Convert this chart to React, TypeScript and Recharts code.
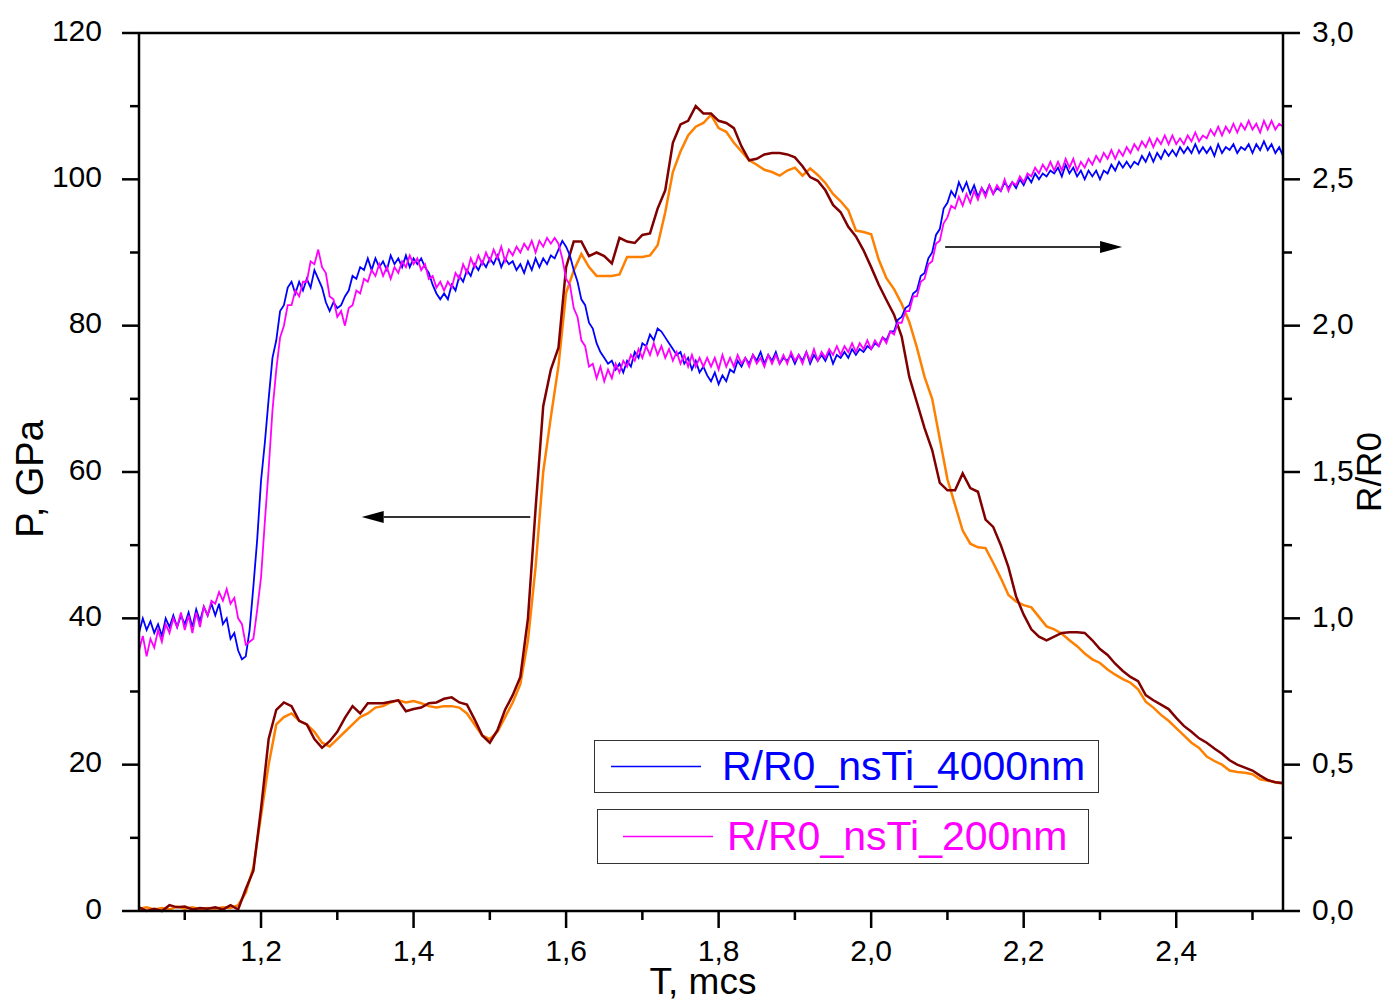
import { LineChart, Line, XAxis, YAxis, ReferenceLine } from 'recharts';

// pressure traces, GPa, sampled every 0.01 mcs from 1.04 to 2.54
const pressureDarkRed = [
  0.5, 0, 0.3, 0, 0.8, 0.5, 0.6, 0.2, 0.4, 0.3,
  0.5, 0.2, 0.8, 0.2, 3, 5.5, 14, 23.5, 27.5, 28.5,
  28, 26, 25.5, 23.5, 22.3, 23.2, 24.5, 26.4, 28, 27,
  28.4, 28.4, 28.4, 28.6, 28.8, 27.3, 27.6, 27.8, 28.4, 28.5,
  29, 29.2, 28.5, 28.2, 26.2, 24, 23, 24.7, 27.5, 29.5,
  32, 40, 55, 69, 74, 77, 88, 91.5, 91.5, 89.5,
  90, 89.5, 88.5, 92, 91.5, 91.3, 92.4, 92.6, 96, 98.5,
  105, 107.5, 108, 110, 109, 109, 108, 107.7, 107, 104.5,
  102.6, 102.8, 103.4, 103.6, 103.6, 103.4, 103, 101.8, 100.3, 99.8,
  98.5, 96.5, 95.5, 93.5, 92.2, 90.3, 88, 85.6, 83.5, 81.5,
  78.5, 73, 69.5, 66, 63, 58.5, 57.5, 57.5, 59.8, 57.8,
  57.3, 53.5, 52.5, 50, 47, 43, 40.5, 38.5, 37.5, 37,
  37.5, 38, 38.1, 38.1, 38, 37, 35.8, 35, 33.8, 32.8,
  32, 31.4, 29.5, 28.8, 28.2, 27.6, 26.4, 25.3, 24.5, 23.6,
  23, 22.2, 21.5, 20.6, 20, 19.6, 19.2, 18.5, 17.9, 17.6,
  17.5,
];

const pressureOrange = [
  0.3, 0.5, 0.2, 0.4, 0.2, 0.6, 0.3, 0.5, 0.2, 0.4,
  0.3, 0.5, 0.4, 0.8, 2.5, 6, 13, 20, 25.5, 26.5,
  27, 26, 25.5, 24.5, 23, 22.5, 23.5, 24.5, 25.5, 26.5,
  27, 27.8, 28, 28.5, 28.8, 28.5, 28.7, 28.4, 28, 27.8,
  28, 28, 27.8, 27, 25.5, 24, 23.5, 24.5, 26.5, 28.5,
  31, 37, 47, 60, 67.5, 74.5, 84.5, 87.5, 89.8, 88,
  86.8, 86.8, 86.8, 87, 89.4, 89.4, 89.4, 89.6, 91, 95.5,
  101, 103.8, 106, 107.2, 107.7, 108.8, 107, 106.5, 105, 103.8,
  102.6, 102, 101.3, 101, 100.5, 101.2, 101.6, 100.5, 101.5, 100.6,
  99.5, 98, 97, 95.8, 93, 92.8, 92.5, 89, 86.5, 85,
  83, 80.5, 77, 73, 70, 64.5, 59, 55.5, 52, 50.2,
  49.7, 49.6, 47.6, 45.5, 43.2, 42.3, 41.8, 41.5, 40.2, 38.9,
  38.5, 37.9, 37, 36.2, 35.2, 34.4, 33.9, 33, 32.3, 31.7,
  31.2, 30.3, 28.6, 27.8, 26.8, 26, 25, 24, 23, 22.3,
  21.1, 20.5, 20, 19.2, 19, 18.9, 18.7, 18, 17.8, 17.6,
  17.4,
];

// R/R0 traces, sampled every 0.005 mcs from 1.04 to 2.54
const rr4000 = [
  0.95, 1.00, 0.96, 0.99, 0.95, 0.98, 0.94, 1.00, 0.97, 1.01,
  0.97, 1.01, 0.98, 1.02, 0.97, 1.03, 0.99, 1.04, 1.01, 1.05,
  1.01, 1.05, 0.98, 1.00, 0.93, 0.95, 0.89, 0.86, 0.87, 0.96,
  1.11, 1.27, 1.47, 1.60, 1.75, 1.89, 1.95, 2.05, 2.07, 2.13,
  2.15, 2.11, 2.15, 2.12, 2.16, 2.13, 2.19, 2.16, 2.13, 2.08,
  2.05, 2.08, 2.06, 2.07, 2.10, 2.12, 2.17, 2.16, 2.20, 2.19,
  2.23, 2.19, 2.23, 2.20, 2.22, 2.19, 2.24, 2.21, 2.23, 2.20,
  2.24, 2.20, 2.23, 2.21, 2.23, 2.20, 2.18, 2.14, 2.11, 2.09,
  2.11, 2.09, 2.14, 2.12, 2.17, 2.15, 2.19, 2.17, 2.21, 2.19,
  2.22, 2.20, 2.23, 2.21, 2.24, 2.20, 2.23, 2.21, 2.22, 2.19,
  2.21, 2.18, 2.22, 2.19, 2.23, 2.20, 2.23, 2.21, 2.24, 2.23,
  2.26, 2.29, 2.27, 2.24, 2.19, 2.15, 2.09, 2.07, 2.01, 1.99,
  1.94, 1.91, 1.89, 1.87, 1.88, 1.85, 1.87, 1.84, 1.88, 1.86,
  1.91, 1.89, 1.94, 1.93, 1.97, 1.95, 1.99, 1.98, 1.96, 1.94,
  1.92, 1.90, 1.91, 1.87, 1.89, 1.85, 1.88, 1.84, 1.86, 1.83,
  1.81, 1.84, 1.80, 1.83, 1.81, 1.85, 1.84, 1.88, 1.86, 1.89,
  1.87, 1.90, 1.88, 1.91, 1.87, 1.90, 1.88, 1.91, 1.87, 1.89,
  1.88, 1.90, 1.87, 1.90, 1.88, 1.91, 1.87, 1.90, 1.88, 1.90,
  1.88, 1.91, 1.87, 1.90, 1.89, 1.91, 1.89, 1.92, 1.90, 1.92,
  1.91, 1.93, 1.92, 1.94, 1.93, 1.96, 1.95, 1.98, 1.98, 2.02,
  2.03, 2.06, 2.07, 2.11, 2.12, 2.17, 2.18, 2.23, 2.25, 2.31,
  2.33, 2.40, 2.42, 2.46, 2.44, 2.49, 2.46, 2.49, 2.45, 2.48,
  2.44, 2.47, 2.45, 2.48, 2.45, 2.47, 2.46, 2.49, 2.47, 2.49,
  2.47, 2.50, 2.48, 2.51, 2.49, 2.52, 2.50, 2.52, 2.51, 2.53,
  2.52, 2.54, 2.51, 2.55, 2.52, 2.54, 2.51, 2.53, 2.50, 2.53,
  2.51, 2.53, 2.50, 2.53, 2.52, 2.55, 2.53, 2.56, 2.54, 2.56,
  2.54, 2.56, 2.55, 2.58, 2.56, 2.59, 2.56, 2.59, 2.57, 2.60,
  2.58, 2.60, 2.58, 2.61, 2.59, 2.61, 2.59, 2.62, 2.59, 2.61,
  2.59, 2.61, 2.58, 2.62, 2.59, 2.61, 2.60, 2.62, 2.59, 2.61,
  2.60, 2.62, 2.59, 2.62, 2.60, 2.63, 2.60, 2.62, 2.59, 2.61,
  2.58,
];

const rr200 = [
  0.89, 0.94, 0.87, 0.93, 0.90, 0.96, 0.92, 0.98, 0.95, 1.00,
  0.97, 1.02, 0.96, 1.01, 0.95, 1.02, 0.97, 1.04, 1.01, 1.06,
  1.05, 1.09, 1.06, 1.10, 1.05, 1.07, 1.00, 0.98, 0.91, 0.92,
  0.93, 1.03, 1.14, 1.33, 1.51, 1.71, 1.85, 1.96, 2.00, 2.07,
  2.07, 2.12, 2.10, 2.15, 2.15, 2.22, 2.21, 2.26, 2.20, 2.18,
  2.10, 2.09, 2.03, 2.05, 2.00, 2.06, 2.07, 2.12, 2.11, 2.16,
  2.15, 2.19, 2.17, 2.21, 2.17, 2.20, 2.16, 2.20, 2.18, 2.22,
  2.20, 2.24, 2.21, 2.23, 2.19, 2.21, 2.16, 2.17, 2.13, 2.15,
  2.12, 2.15, 2.13, 2.18, 2.16, 2.21, 2.18, 2.23, 2.20, 2.24,
  2.21, 2.25, 2.22, 2.26, 2.23, 2.27, 2.22, 2.26, 2.24, 2.27,
  2.25, 2.28, 2.26, 2.29, 2.25, 2.29, 2.27, 2.30, 2.28, 2.30,
  2.28, 2.23, 2.16, 2.14, 2.06, 2.03, 1.95, 1.93, 1.86, 1.87,
  1.82, 1.86, 1.81, 1.85, 1.82, 1.87, 1.84, 1.88, 1.86, 1.90,
  1.88, 1.92, 1.89, 1.93, 1.90, 1.94, 1.90, 1.93, 1.89, 1.92,
  1.88, 1.91, 1.87, 1.90, 1.86, 1.90, 1.86, 1.89, 1.86, 1.89,
  1.86, 1.89, 1.85, 1.90, 1.86, 1.89, 1.86, 1.90, 1.87, 1.89,
  1.86, 1.90, 1.87, 1.89, 1.86, 1.90, 1.87, 1.90, 1.87, 1.90,
  1.87, 1.91, 1.88, 1.90, 1.87, 1.91, 1.88, 1.92, 1.88, 1.91,
  1.89, 1.92, 1.90, 1.93, 1.90, 1.93, 1.91, 1.94, 1.91, 1.94,
  1.92, 1.95, 1.92, 1.95, 1.93, 1.96, 1.94, 1.98, 1.97, 2.01,
  2.01, 2.05, 2.05, 2.10, 2.10, 2.15, 2.16, 2.21, 2.22, 2.28,
  2.29, 2.35, 2.37, 2.41, 2.40, 2.44, 2.41, 2.45, 2.42, 2.46,
  2.43, 2.47, 2.44, 2.48, 2.45, 2.48, 2.46, 2.50, 2.46, 2.49,
  2.48, 2.51, 2.49, 2.52, 2.51, 2.54, 2.52, 2.55, 2.53, 2.56,
  2.53, 2.56, 2.53, 2.57, 2.54, 2.57, 2.53, 2.56, 2.54, 2.57,
  2.55, 2.58, 2.56, 2.59, 2.57, 2.60, 2.57, 2.60, 2.58, 2.61,
  2.59, 2.62, 2.60, 2.63, 2.61, 2.64, 2.61, 2.64, 2.62, 2.65,
  2.62, 2.65, 2.62, 2.64, 2.62, 2.65, 2.63, 2.66, 2.63, 2.65,
  2.64, 2.67, 2.65, 2.68, 2.65, 2.68, 2.66, 2.69, 2.66, 2.69,
  2.67, 2.70, 2.67, 2.69, 2.66, 2.70, 2.67, 2.70, 2.67, 2.69,
  2.68,
];

const xTicks = [1.1, 1.2, 1.3, 1.4, 1.5, 1.6, 1.7, 1.8, 1.9, 2.0, 2.1, 2.2, 2.3, 2.4, 2.5];
const leftTicks = [0, 10, 20, 30, 40, 50, 60, 70, 80, 90, 100, 110, 120];
const rightTicks = [0, 0.25, 0.5, 0.75, 1, 1.25, 1.5, 1.75, 2, 2.25, 2.5, 2.75, 3];

const FONT = '"Liberation Sans", Arial, sans-serif';

const withTimes = (values: number[], start: number, step: number) =>
  values.map((v, i) => ({ t: +(start + i * step).toFixed(3), v }));

const darkRedData = withTimes(pressureDarkRed, 1.04, 0.01);
const orangeData = withTimes(pressureOrange, 1.04, 0.01);
const blueData = withTimes(rr4000, 1.04, 0.005);
const magentaData = withTimes(rr200, 1.04, 0.005);

const comma = (v: number) => v.toFixed(1).replace('.', ',');

function XTick({ x, y, payload }: any) {
  const major = Math.round(payload.value * 10) % 2 === 0;
  return (
    <g>
      <line x1={x} x2={x} y1={y} y2={y + (major ? 17 : 9)} stroke="#000" strokeWidth={2.5} />
      {major && (
        <text x={x} y={y + 39} textAnchor="middle" dominantBaseline="central" fontSize={30} fontFamily={FONT} fill="#000">
          {comma(payload.value)}
        </text>
      )}
    </g>
  );
}

function LeftTick({ x, y, payload }: any) {
  const major = payload.value % 20 === 0;
  return (
    <g>
      <line x1={x} x2={x - (major ? 17 : 9)} y1={y} y2={y} stroke="#000" strokeWidth={2.5} />
      {major && (
        <text x={x - 37} y={y - 3} textAnchor="end" dominantBaseline="central" fontSize={30} fontFamily={FONT} fill="#000">
          {payload.value}
        </text>
      )}
    </g>
  );
}

function RightTick({ x, y, payload }: any) {
  const major = Math.round(payload.value * 100) % 50 === 0;
  return (
    <g>
      <line x1={x} x2={x + (major ? 17 : 9)} y1={y} y2={y} stroke="#000" strokeWidth={2.5} />
      {major && (
        <text x={x + 29} y={y - 2} textAnchor="start" dominantBaseline="central" fontSize={30} fontFamily={FONT} fill="#000">
          {comma(payload.value)}
        </text>
      )}
    </g>
  );
}

function arrow(props: any) {
  const { x1, y1, x2, y2 } = props;
  const dir = x2 > x1 ? 1 : -1;
  const head = 22;
  return (
    <g>
      <line x1={x1} y1={y1} x2={x2 - dir * head} y2={y2} stroke="#333" strokeWidth={2} />
      <polygon points={`${x2},${y2} ${x2 - dir * head},${y2 - 6} ${x2 - dir * head},${y2 + 6}`} fill="#000" />
    </g>
  );
}

const xTitle = () => (
  <text x={703} y={994} textAnchor="middle" fontSize={37} fontFamily={FONT} fill="#000">T, mcs</text>
);
const leftTitle = () => (
  <text transform="translate(30,479) rotate(-90)" textAnchor="middle" dominantBaseline="central" fontSize={38} fontFamily={FONT} fill="#000">P, GPa</text>
);
const rightTitle = () => (
  <text transform="translate(1368,472) rotate(-90)" textAnchor="middle" dominantBaseline="central" fontSize={35} fontFamily={FONT} fill="#000">R/R0</text>
);

function LegendBox({ left, top, width, height, lineFrom, lineTo, textLeft, color, label }: any) {
  return (
    <div style={{ position: 'absolute', left, top, width, height, border: '1.5px solid #333', boxSizing: 'border-box', background: '#fff' }}>
      <svg style={{ position: 'absolute', left: 0, top: 0 }} width={width} height={height}>
        <line x1={lineFrom} x2={lineTo} y1={height / 2 - 1} y2={height / 2 - 1} stroke={color} strokeWidth={1.5} />
      </svg>
      <span style={{ position: 'absolute', left: textLeft, top: 0, lineHeight: `${height - 3}px`, fontSize: 41, fontFamily: FONT, color, whiteSpace: 'nowrap' }}>
        {label}
      </span>
    </div>
  );
}

export default function App() {
  return (
    <div style={{ position: 'absolute', left: 0, top: 0, width: 1389, height: 1004, background: '#fff', overflow: 'hidden' }}>
      <LineChart width={1389} height={1004} margin={{ top: 33, right: 0, bottom: 0, left: 0 }}>
        <XAxis
          dataKey="t"
          type="number"
          domain={[1.04, 2.54]}
          ticks={xTicks}
          interval={0}
          height={93}
          tickSize={0}
          tickMargin={0}
          tickLine={false}
          tick={<XTick />}
          axisLine={{ stroke: '#000', strokeWidth: 2.5 }}
          label={xTitle}
        />
        <YAxis
          yAxisId="left"
          orientation="left"
          domain={[0, 120]}
          ticks={leftTicks}
          interval={0}
          width={139}
          tickSize={0}
          tickMargin={0}
          tickLine={false}
          tick={<LeftTick />}
          axisLine={{ stroke: '#000', strokeWidth: 2.5 }}
          label={leftTitle}
        />
        <YAxis
          yAxisId="right"
          orientation="right"
          domain={[0, 3]}
          ticks={rightTicks}
          interval={0}
          width={106}
          tickSize={0}
          tickMargin={0}
          tickLine={false}
          tick={<RightTick />}
          axisLine={{ stroke: '#000', strokeWidth: 2.5 }}
          label={rightTitle}
        />
        <ReferenceLine yAxisId="left" y={120} stroke="#000" strokeWidth={2.5} />
        <Line yAxisId="left" data={orangeData} dataKey="v" type="linear" stroke="#ff8000" strokeWidth={2.5} dot={false} isAnimationActive={false} />
        <Line yAxisId="left" data={darkRedData} dataKey="v" type="linear" stroke="#800000" strokeWidth={2.5} dot={false} isAnimationActive={false} />
        <Line yAxisId="right" data={blueData} dataKey="v" type="linear" stroke="#0000ff" strokeWidth={1.8} dot={false} isAnimationActive={false} />
        <Line yAxisId="right" data={magentaData} dataKey="v" type="linear" stroke="#ff00ff" strokeWidth={1.8} dot={false} isAnimationActive={false} />
        <ReferenceLine yAxisId="left" segment={[{ x: 1.553, y: 53.85 }, { x: 1.332, y: 53.85 }]} shape={arrow} />
        <ReferenceLine yAxisId="left" segment={[{ x: 2.097, y: 90.75 }, { x: 2.329, y: 90.75 }]} shape={arrow} />
      </LineChart>
      <LegendBox left={594} top={740} width={505} height={53} lineFrom={16} lineTo={106} textLeft={127} color="#0000ff" label="R/R0_nsTi_4000nm" />
      <LegendBox left={597} top={809} width={492} height={55} lineFrom={25} lineTo={115} textLeft={129} color="#ff00ff" label="R/R0_nsTi_200nm" />
    </div>
  );
}
